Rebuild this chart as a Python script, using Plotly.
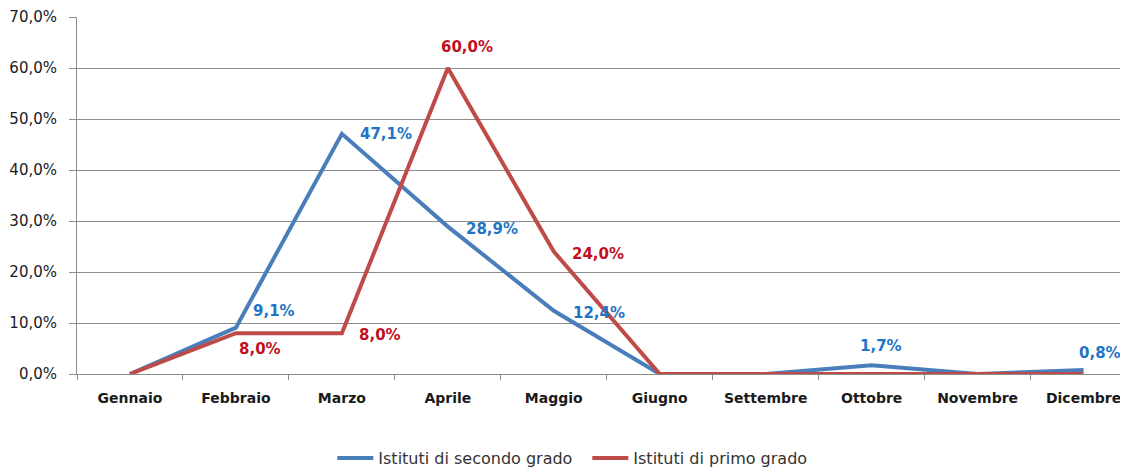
import plotly.graph_objects as go

months = ["Gennaio", "Febbraio", "Marzo", "Aprile", "Maggio", "Giugno",
          "Settembre", "Ottobre", "Novembre", "Dicembre"]
secondo = [0.0, 9.1, 47.1, 28.9, 12.4, 0.0, 0.0, 1.7, 0.0, 0.8]
primo = [0.0, 8.0, 8.0, 60.0, 24.0, 0.0, 0.0, 0.0, 0.0, 0.0]
y_ticks = [0, 10, 20, 30, 40, 50, 60, 70]
y_ticktext = ["0,0%", "10,0%", "20,0%", "30,0%", "40,0%", "50,0%", "60,0%", "70,0%"]

BLUE = "#4A7EBB"
RED = "#BE4B48"
BLUE_TXT = "#1F74C4"
RED_TXT = "#C0101E"
FONT = "DejaVu Sans"

# label offsets in screen pixels (dx right, dy down) per point index
sec_off = {1: (38, -17), 2: (44, 0), 3: (44, 2), 4: (45, 2), 7: (9, -19), 9: (16, -17)}
pri_off = {1: (24, 16), 2: (38, 2), 3: (19, -21), 4: (44, 2)}

def fmt(v):
    return f"{v:.1f}".replace(".", ",") + "%"

fig = go.Figure()
fig.add_trace(go.Scatter(x=months, y=secondo, mode="lines", name="Istituti di secondo grado",
                         line=dict(color=BLUE, width=4)))
fig.add_trace(go.Scatter(x=months, y=primo, mode="lines", name="Istituti di primo grado",
                         line=dict(color=RED, width=4)))

anns = []
for i, (dx, dy) in sec_off.items():
    anns.append(dict(x=months[i], y=secondo[i], text=fmt(secondo[i]), showarrow=False,
                     xshift=dx, yshift=-dy, font=dict(family=FONT, size=15, color=BLUE_TXT, weight="bold")))
for i, (dx, dy) in pri_off.items():
    anns.append(dict(x=months[i], y=primo[i], text=fmt(primo[i]), showarrow=False,
                     xshift=dx, yshift=-dy, font=dict(family=FONT, size=15, color=RED_TXT, weight="bold")))

fig.update_layout(
    width=1120, height=459,
    margin=dict(l=69, r=1, t=9, b=93, autoexpand=False),
    paper_bgcolor="white", plot_bgcolor="white",
    font=dict(family=FONT, size=15, color="#1a1a1a"),
    annotations=anns,
    showlegend=True,
    legend=dict(orientation="h", x=0.486, xanchor="center", y=-0.2353, yanchor="middle",
                font=dict(family=FONT, size=16, color="#333333"), itemwidth=36,
                entrywidth=204, entrywidthmode="pixels"),
    xaxis=dict(type="category", range=[-0.5, 9.41], showgrid=False, automargin=False,
               showline=True, linecolor="#8c8c8c", linewidth=1,
               ticks="outside", tickson="boundaries", ticklen=5, tickcolor="#8c8c8c",
               ticklabelstandoff=11,
               tickfont=dict(family=FONT, size=14, color="#1a1a1a", weight="bold")),
    yaxis=dict(range=[0, 70], tickvals=y_ticks, ticktext=y_ticktext, automargin=False,
               showgrid=True, gridcolor="#8c8c8c", gridwidth=1,
               showline=True, linecolor="#8c8c8c", linewidth=1,
               ticks="outside", ticklen=7, tickcolor="#8c8c8c",
               ticklabelstandoff=9,
               zeroline=False,
               tickfont=dict(family=FONT, size=15, color="#1a1a1a")),
)

fig.write_html("out.html")
